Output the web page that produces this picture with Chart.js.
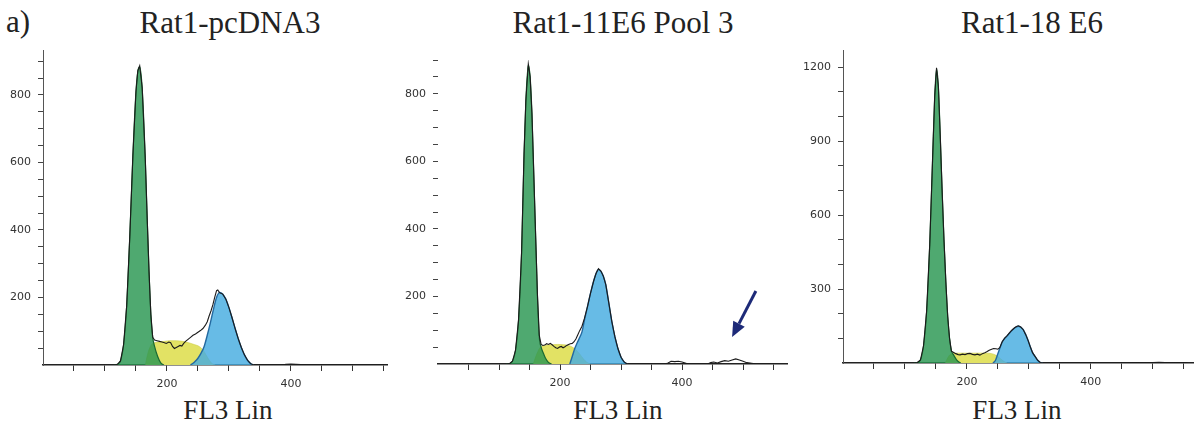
<!DOCTYPE html>
<html>
<head>
<meta charset="utf-8">
<script src="https://cdn.jsdelivr.net/npm/chart.js@4.4.0/dist/chart.umd.min.js"></script>
<style>
  html, body { margin: 0; padding: 0; background: #fff; }
  #wrap { position: relative; width: 1200px; height: 423px; overflow: hidden; }
  canvas { position: absolute; top: 0; }
  .serif { position: absolute; font-family: "Liberation Serif", "Times New Roman", serif; color: #222; line-height: 1; white-space: nowrap; }
  .ttl { font-size: 31px; text-align: center; width: 400px; top: 7px; }
  .axt { font-size: 27px; text-align: center; width: 300px; top: 397px; }
</style>
</head>
<body>
<div id="wrap">
  <div class="serif" style="left:6px; top:6px; font-size:31px;">a)</div>
  <div class="serif ttl" style="left:30px;">Rat1-pcDNA3</div>
  <div class="serif ttl" style="left:423px;">Rat1-11E6 Pool 3</div>
  <div class="serif ttl" style="left:832px;">Rat1-18 E6</div>
  <div class="serif axt" style="left:78px;">FL3 Lin</div>
  <div class="serif axt" style="left:468px;">FL3 Lin</div>
  <div class="serif axt" style="left:867px;">FL3 Lin</div>
  <canvas id="c1" width="400" height="423" style="left:0px"></canvas>
  <canvas id="c2" width="400" height="423" style="left:400px"></canvas>
  <canvas id="c3" width="400" height="423" style="left:800px"></canvas>
</div>
<script>
// ---- Rat1-pcDNA3 : FL3 channel vs. cell count ----
const p1G1X = [115,120,125,130,135,140,145,150,153,156,160,165,168,171,174,177,180,185,190,195];
const p1G1Y = [0,2,12,60,175,380,620,810,870,883,820,610,440,280,150,82,55,25,6,0];
const p1SX  = [165,170,175,180,188,196,205,215,225,235,245,252,258,263,268,273,278];
const p1SY  = [0,40,60,66,68,70,72,72,70,66,60,55,45,30,15,4,0];
const p1G2X = [238,242,246,250,255,260,265,270,275,280,285,290,295,300,305,310,315,320,325,330,335,340];
const p1G2Y = [0,5,12,20,35,55,88,125,165,200,215,210,195,170,140,108,78,52,30,14,4,0];
const p1TotX = [115,120,125,130,135,140,145,150,153,156,160,165,168,171,174,177,180,184,188,192,
  196,199,203,206,209,212,215,218,221,224,227,230,234,238,242,246,250,254,258,262,
  265,268,271,274,277,280,282,285,290,295,300,305,310,315,320,325,330,335,340,385,
  392,400,408,416,430,550];
const p1TotY = [0,2,12,60,175,380,620,810,872,886,822,612,440,280,150,82,74,72,70,68,
  66,64,68,66,55,49,52,55,58,56,64,70,76,82,88,92,97,102,108,118,
  128,145,160,178,200,220,222,214,210,195,170,140,108,78,52,30,14,4,0,0,
  2,3,2,1,0,0];
const p1XTicks = [50,100,150,200,250,300,350,400,450,500,550];
const p1XLabels = [200,400];
const p1YTicks = [50,100,150,200,250,300,350,400,450,500,550,600,650,700,750,800,850,900];
const p1YLabels = [200,400,600,800];

// ---- Rat1-11E6 Pool 3 ----
const p2G1X = [112,117,122,127,132,137,141,144,148,151,154,157,160,163,166,169,172,176,181,186];
const p2G1Y = [0,1,8,40,130,330,620,780,886,850,740,560,380,200,80,50,35,18,5,0];
const p2SX  = [156,162,168,176,186,196,206,214,220,226,232,238,244,250];
const p2SY  = [0,30,50,55,57,58,57,55,50,42,30,16,5,0];
const p2G2X = [216,220,224,228,232,236,240,245,250,255,259,263,267,271,275,280,285,290,295,300,305,310];
const p2G2Y = [0,22,45,62,78,95,130,170,210,245,268,280,274,260,235,180,125,80,45,20,6,0];
const p2TotX = [112,117,122,127,132,137,141,144,148,151,154,157,160,163,166,169,172,175,178,181,
  184,187,190,193,196,199,202,205,208,211,214,217,220,223,226,229,232,236,240,245,
  250,255,259,263,267,271,275,280,285,290,295,300,305,310,320,372,377,382,388,394,
  400,405,410,442,447,452,458,464,470,476,482,488,494,500,506,514,522,545];
const p2TotY = [0,1,8,40,130,330,620,780,888,850,740,560,380,205,85,58,55,56,60,58,
  61,57,52,48,46,50,52,48,51,55,58,60,61,66,74,86,98,112,135,170,
  210,245,268,282,275,260,235,180,125,80,45,20,6,0,0,0,3,8,7,8,
  6,3,0,0,4,6,3,7,10,8,12,15,12,8,4,2,0,0];
const p2XTicks = [50,100,150,200,250,300,350,400,450,500,550];
const p2XLabels = [200,400];
const p2YTicks = [50,100,150,200,250,300,350,400,450,500,550,600,650,700,750,800,850,900];
const p2YLabels = [200,400,600,800];
// arrow pointing at the events beyond the G2/M peak
const p2ArrowFrom = {x: 521, y: 216};
const p2ArrowTo   = {x: 482, y: 80};

// ---- Rat1-18 E6 ----
const p3G1X = [115,120,125,130,135,140,144,148,151,154,157,160,163,166,169,172,175,178,182,186,190];
const p3G1Y = [0,2,12,70,210,480,780,1080,1194,1120,920,700,500,330,190,100,50,35,18,6,0];
const p3SX  = [165,170,175,180,190,200,210,220,230,240,248,254,260,265];
const p3SY  = [0,25,38,40,40,40,40,40,40,38,30,18,6,0];
const p3G2X = [242,246,250,254,257,261,265,269,273,277,280,283,287,291,295,299,302,306,310,314,318,322];
const p3G2Y = [0,10,38,65,85,100,110,122,133,142,147,149,145,135,115,90,68,42,27,12,3,0];
const p3TotX = [115,120,125,130,135,140,144,148,151,154,157,160,163,166,169,172,175,178,182,186,
  189,193,197,201,205,209,213,217,221,225,229,232,236,240,243,247,250,253,257,261,
  265,269,273,277,280,283,287,291,295,299,302,306,310,314,318,322,340,455,470,490,
  510,530,556];
const p3TotY = [0,2,12,70,210,480,780,1080,1198,1120,920,700,500,330,190,100,48,44,38,34,
  33,36,34,38,39,35,33,36,32,38,42,46,52,56,59,58,56,62,86,101,
  111,123,134,143,148,151,146,135,115,90,68,42,27,12,3,0,0,0,2,1,
  3,1,2];
const p3XTicks = [50,100,150,200,250,300,350,400,450,500,550];
const p3XLabels = [200,400];
const p3YTicks = [100,200,300,400,500,600,700,800,900,1000,1100,1200];
const p3YLabels = [300,600,900,1200];

// ---- shared drawing ----
const pts = (xs, ys) => xs.map((x, i) => ({x: x, y: ys[i]}));
const tickFont = {family: '"DejaVu Sans", Verdana, sans-serif', size: 11};

const arrowPlugin = {
  id: 'arrow',
  afterDatasetsDraw(chart, args, opts) {
    if (!opts || !opts.from) return;
    const xs = chart.scales.x, ys = chart.scales.y;
    const x0 = xs.getPixelForValue(opts.from.x), y0 = ys.getPixelForValue(opts.from.y);
    const x1 = xs.getPixelForValue(opts.to.x),   y1 = ys.getPixelForValue(opts.to.y);
    const ang = Math.atan2(y1 - y0, x1 - x0);
    const head = 15, half = 6.5;
    const bx = x1 - head * Math.cos(ang), by = y1 - head * Math.sin(ang);
    const ctx = chart.ctx;
    ctx.save();
    ctx.strokeStyle = '#1d2a78';
    ctx.fillStyle = '#1d2a78';
    ctx.lineWidth = 3;
    ctx.beginPath(); ctx.moveTo(x0, y0); ctx.lineTo(bx, by); ctx.stroke();
    ctx.beginPath();
    ctx.moveTo(x1, y1);
    ctx.lineTo(bx + half * Math.sin(ang), by - half * Math.cos(ang));
    ctx.lineTo(bx - half * Math.sin(ang), by + half * Math.cos(ang));
    ctx.closePath(); ctx.fill();
    ctx.restore();
  }
};

function histogram(id, d) {
  new Chart(document.getElementById(id), {
    type: 'line',
    data: {
      datasets: [
        {label: 'Data', data: pts(d.totX, d.totY), borderColor: '#1b1b1b', borderWidth: 1.1,
         fill: false, pointRadius: 0, tension: 0},
        {label: 'G2/M', data: pts(d.g2X, d.g2Y), borderColor: 'rgb(35,105,160)', borderWidth: 1.4,
         backgroundColor: 'rgba(70,172,225,0.82)', fill: 'origin', pointRadius: 0, cubicInterpolationMode: 'monotone'},
        {label: 'G0/G1', data: pts(d.g1X, d.g1Y), borderColor: 'rgb(25,105,50)', borderWidth: 1.2,
         backgroundColor: 'rgba(40,150,80,0.82)', fill: 'origin', pointRadius: 0, cubicInterpolationMode: 'monotone'},
        {label: 'S', data: pts(d.sX, d.sY), borderColor: 'rgb(205,205,70)', borderWidth: 0.6,
         backgroundColor: 'rgb(226,226,100)', fill: 'origin', pointRadius: 0, cubicInterpolationMode: 'monotone'}
      ]
    },
    options: {
      responsive: false,
      animation: false,
      devicePixelRatio: 1,
      layout: {padding: {top: d.top, right: d.right, bottom: 0, left: 0}},
      plugins: {legend: {display: false}, tooltip: {enabled: false}, arrow: d.arrow || {}},
      scales: {
        x: {
          type: 'linear', min: 0, max: d.xMax,
          afterFit: s => { s.height = d.xH; },
          afterBuildTicks: s => { s.ticks = d.xTicks.map(v => ({value: v})); },
          grid: {drawOnChartArea: false, drawTicks: true, tickLength: 6, tickColor: '#333', tickWidth: 1},
          border: {display: true, color: '#222', width: 1.5},
          ticks: {autoSkip: false, maxRotation: 0, padding: 7, font: tickFont, color: '#333',
                  callback: v => d.xLabels.includes(v) ? String(v) : ''}
        },
        y: {
          type: 'linear', min: 0, max: d.yMax,
          afterFit: s => { s.width = d.yW; },
          afterBuildTicks: s => { s.ticks = d.yTicks.map(v => ({value: v})); },
          grid: {drawOnChartArea: false, drawTicks: true, tickLength: 5, tickColor: '#444', tickWidth: 1},
          border: {display: d.yBorder, color: '#555', width: 1},
          ticks: {autoSkip: false, padding: 7, font: tickFont, color: '#333',
                  callback: v => d.yLabels.includes(v) ? String(v) : ''}
        }
      }
    },
    plugins: [arrowPlugin]
  });
}

histogram('c1', {
  g1X: p1G1X, g1Y: p1G1Y, sX: p1SX, sY: p1SY, g2X: p1G2X, g2Y: p1G2Y, totX: p1TotX, totY: p1TotY,
  xTicks: p1XTicks, xLabels: p1XLabels, yTicks: p1YTicks, yLabels: p1YLabels,
  xMax: 555, yMax: 933, top: 50, right: 13, yW: 43, xH: 58, yBorder: true
});
histogram('c2', {
  g1X: p2G1X, g1Y: p2G1Y, sX: p2SX, sY: p2SY, g2X: p2G2X, g2Y: p2G2Y, totX: p2TotX, totY: p2TotY,
  xTicks: p2XTicks, xLabels: p2XLabels, yTicks: p2YTicks, yLabels: p2YLabels,
  xMax: 572, yMax: 900, top: 60, right: 13, yW: 38, xH: 59, yBorder: false,
  arrow: {from: p2ArrowFrom, to: p2ArrowTo}
});
histogram('c3', {
  g1X: p3G1X, g1Y: p3G1Y, sX: p3SX, sY: p3SY, g2X: p3G2X, g2Y: p3G2Y, totX: p3TotX, totY: p3TotY,
  xTicks: p3XTicks, xLabels: p3XLabels, yTicks: p3YTicks, yLabels: p3YLabels,
  xMax: 565, yMax: 1270, top: 50, right: 7, yW: 43, xH: 60, yBorder: true
});
</script>
</body>
</html>
